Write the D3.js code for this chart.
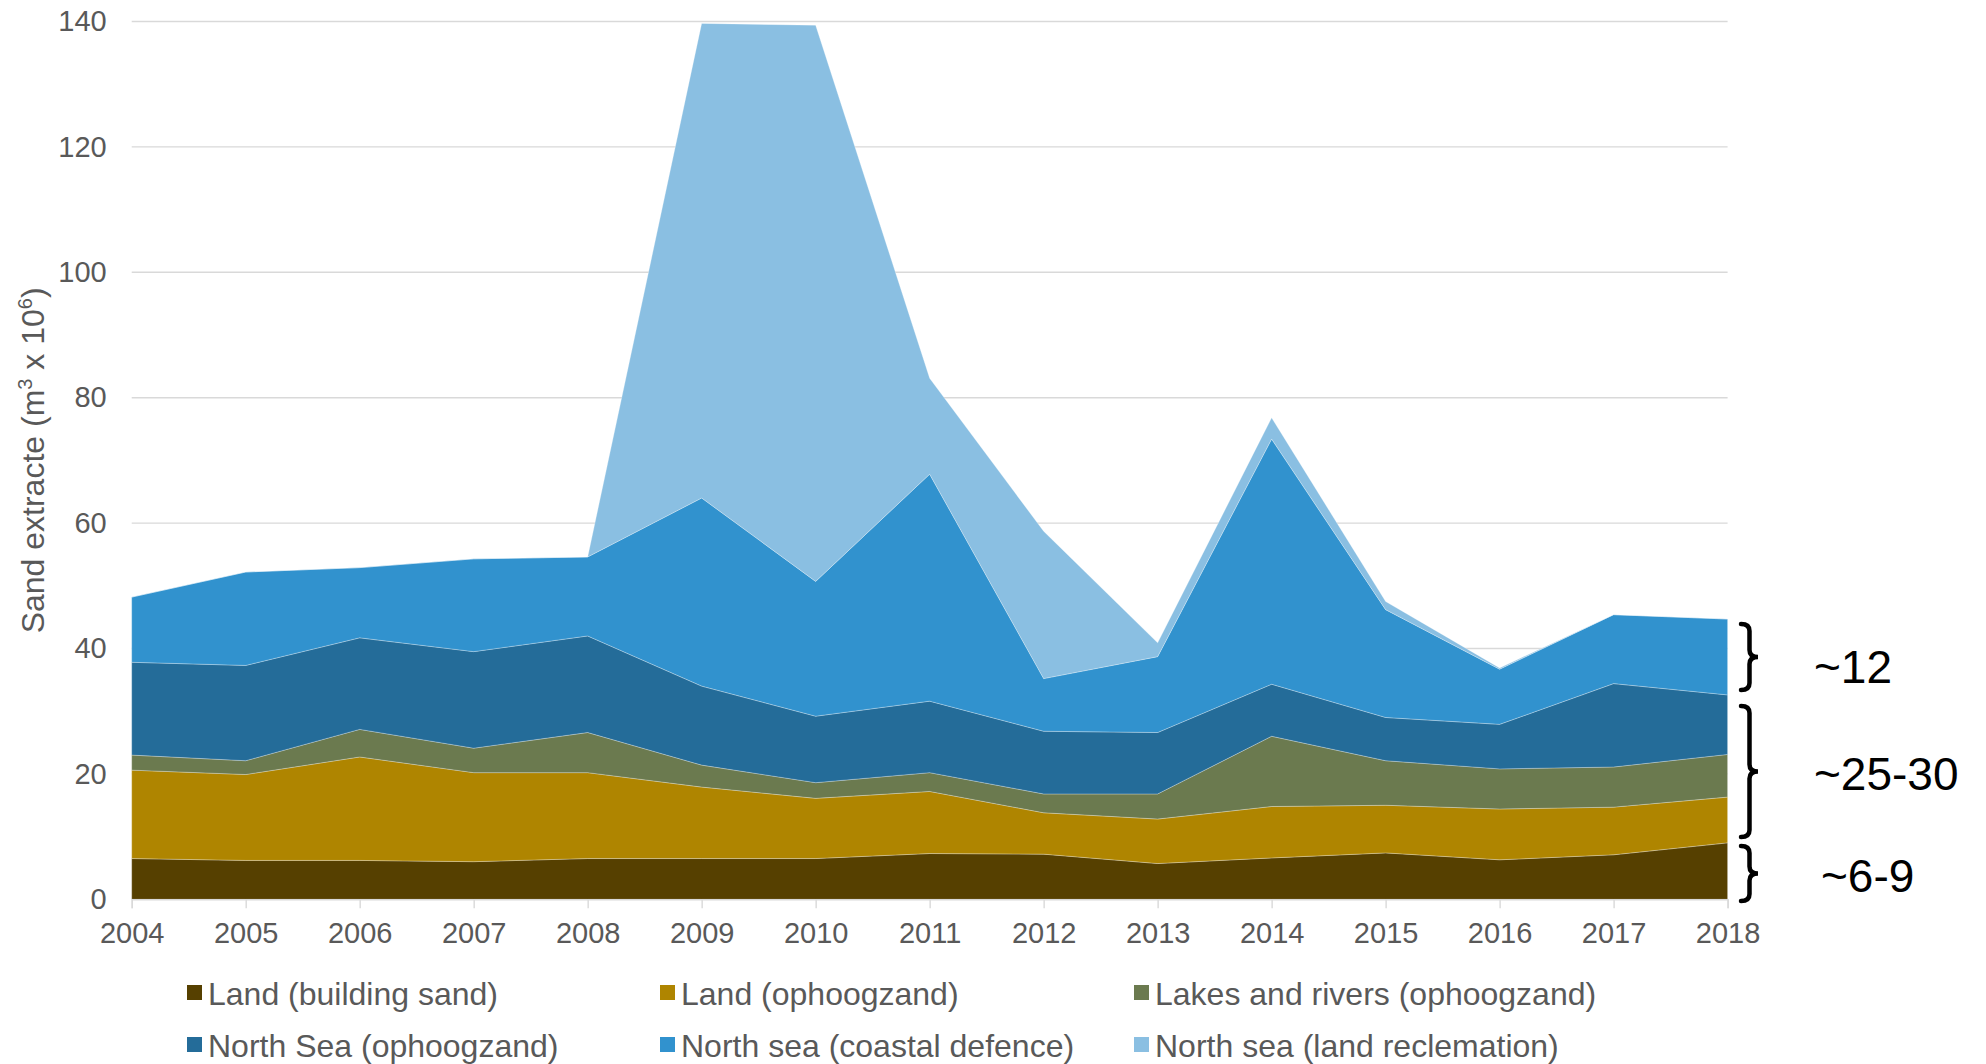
<!DOCTYPE html>
<html>
<head>
<meta charset="utf-8">
<script src="https://cdn.jsdelivr.net/npm/d3@7"></script>
<style>
  html, body { margin: 0; padding: 0; background: #fff; }
  svg { display: block; }
  text { font-family: "Liberation Sans", Arial, sans-serif; }
</style>
</head>
<body>
<svg id="chart" width="1986" height="1064"></svg>
<script>
// ---- data ----
const years = [2004, 2005, 2006, 2007, 2008, 2009, 2010, 2011, 2012, 2013, 2014, 2015, 2016, 2017, 2018];
const landBuilding   = [6.5, 6.2, 6.2, 6.0, 6.5, 6.5, 6.5, 7.3, 7.2, 5.7, 6.6, 7.4, 6.3, 7.1, 9.0];
const landOphoog     = [14.1, 13.7, 16.5, 14.2, 13.7, 11.4, 9.6, 9.9, 6.6, 7.1, 8.2, 7.6, 8.1, 7.6, 7.3];
const lakesRivers    = [2.4, 2.2, 4.4, 3.9, 6.4, 3.5, 2.5, 3.0, 3.0, 4.0, 11.2, 7.1, 6.4, 6.4, 6.8];
const northSeaOphoog = [14.8, 15.2, 14.6, 15.4, 15.4, 12.6, 10.6, 11.4, 10.0, 9.8, 8.3, 6.9, 7.1, 13.3, 9.5];
const northSeaCoast  = [10.4, 14.9, 11.2, 14.8, 12.6, 30.0, 21.5, 36.2, 8.4, 12.1, 39.1, 17.2, 8.8, 11.0, 12.1];
const northSeaReclam = [0, 0, 0, 0, 0, 75.7, 88.7, 15.3, 23.5, 2.2, 3.4, 1.3, 0.2, 0, 0];
const seriesNames = ["Land (building sand)", "Land (ophoogzand)", "Lakes and rivers (ophoogzand)",
                     "North Sea (ophoogzand)", "North sea (coastal defence)", "North sea (land reclemation)"];
const seriesColors = ["#564000", "#AF8500", "#6B7A4F", "#246C99", "#3192CE", "#8ABFE2"];
const yTicks = [0, 20, 40, 60, 80, 100, 120, 140];
const braceLabels = ["~12", "~25-30", "~6-9"];

// ---- build table ----
const allSeries = [landBuilding, landOphoog, lakesRivers, northSeaOphoog, northSeaCoast, northSeaReclam];
const table = years.map((yr, i) => {
  const row = { year: yr };
  seriesNames.forEach((n, k) => row[n] = allSeries[k][i]);
  return row;
});

const svg = d3.select("#chart");
const x = d3.scaleLinear().domain([2004, 2018]).range([131.7, 1727.6]);
const y = d3.scaleLinear().domain([0, 140]).range([899.3, 21.5]);

// gridlines
svg.append("g").selectAll("line").data(yTicks.filter(t => t > 0)).join("line")
  .attr("x1", x(2004)).attr("x2", x(2018))
  .attr("y1", d => y(d)).attr("y2", d => y(d))
  .attr("stroke", "#d9d9d9").attr("stroke-width", 1.4);

// stacked areas
const stack = d3.stack().keys(seriesNames);
const stacked = stack(table);
const area = d3.area()
  .x(d => x(d.data.year))
  .y0(d => y(d[0]))
  .y1(d => y(d[1]));
svg.append("g").selectAll("path").data(stacked).join("path")
  .attr("d", area)
  .attr("fill", (d, i) => seriesColors[i])
  .attr("stroke", "rgba(255,255,255,0.35)")
  .attr("stroke-width", 0.8)
  .attr("stroke-linejoin", "round");

// x axis
const xAxis = d3.axisBottom(x).tickValues(years).tickFormat(d3.format("d")).tickSize(9).tickPadding(14);
const gx = svg.append("g").attr("transform", `translate(0,${y(0)})`).call(xAxis);
gx.select(".domain").attr("stroke", "#d9d9d9").attr("stroke-width", 1.4);
gx.selectAll(".tick line").attr("stroke", "#d9d9d9").attr("stroke-width", 1.4);
gx.selectAll(".tick text").attr("fill", "#595959").style("font-size", "29px")
  .style("font-family", "'Liberation Sans', Arial, sans-serif");

// y axis
const yAxis = d3.axisLeft(y).tickValues(yTicks).tickSize(0).tickPadding(25);
const gy = svg.append("g").attr("transform", `translate(${x(2004)},0)`).call(yAxis);
gy.select(".domain").remove();
gy.selectAll(".tick text").attr("fill", "#595959").style("font-size", "29px")
  .style("font-family", "'Liberation Sans', Arial, sans-serif");

// y title
const yt = svg.append("text")
  .attr("transform", `translate(44,${(y(0) + y(140)) / 2}) rotate(-90)`)
  .attr("text-anchor", "middle")
  .attr("fill", "#595959")
  .style("font-size", "32px");
yt.append("tspan").text("Sand extracte (m");
yt.append("tspan").attr("dy", -12).style("font-size", "20px").text("3");
yt.append("tspan").attr("dy", 12).text(" x 10");
yt.append("tspan").attr("dy", -12).style("font-size", "20px").text("6");
yt.append("tspan").attr("dy", 12).text(")");

// legend
const legCols = [187, 660, 1134];
const legRows = [993, 1045];
const lg = svg.append("g");
seriesNames.forEach((n, i) => {
  const cx = legCols[i % 3], cy = legRows[Math.floor(i / 3)];
  lg.append("rect").attr("x", cx).attr("y", cy - 8).attr("width", 15).attr("height", 15)
    .attr("fill", seriesColors[i]);
  lg.append("text").attr("x", cx + 21).attr("y", cy).attr("dy", "0.36em")
    .attr("fill", "#595959").style("font-size", "32px").text(n);
});

// braces with labels (value ranges as in the reference)
const braces = [
  { top: 624, bottom: 690, label: braceLabels[0], lx: 1814, ly: 683 },
  { top: 706, bottom: 837, label: braceLabels[1], lx: 1814, ly: 790 },
  { top: 846, bottom: 901, label: braceLabels[2], lx: 1821, ly: 892 }
];
function bracePath(x0, top, bottom, w) {
  const mid = (top + bottom) / 2, r = Math.min(7, (bottom - top) / 6);
  const xm = x0 + w / 2;
  return `M${x0},${top} Q${xm},${top} ${xm},${top + r} L${xm},${mid - r} Q${xm},${mid} ${x0 + w},${mid}` +
         ` Q${xm},${mid} ${xm},${mid + r} L${xm},${bottom - r} Q${xm},${bottom} ${x0},${bottom}`;
}
braces.forEach(b => {
  svg.append("path").attr("d", bracePath(1741, b.top, b.bottom, 17))
    .attr("fill", "none").attr("stroke", "#000").attr("stroke-width", 4.5).attr("stroke-linecap", "round");
  svg.append("text").attr("x", b.lx).attr("y", b.ly).attr("fill", "#000")
    .style("font-size", "46px").text(b.label);
});
</script>
</body>
</html>
